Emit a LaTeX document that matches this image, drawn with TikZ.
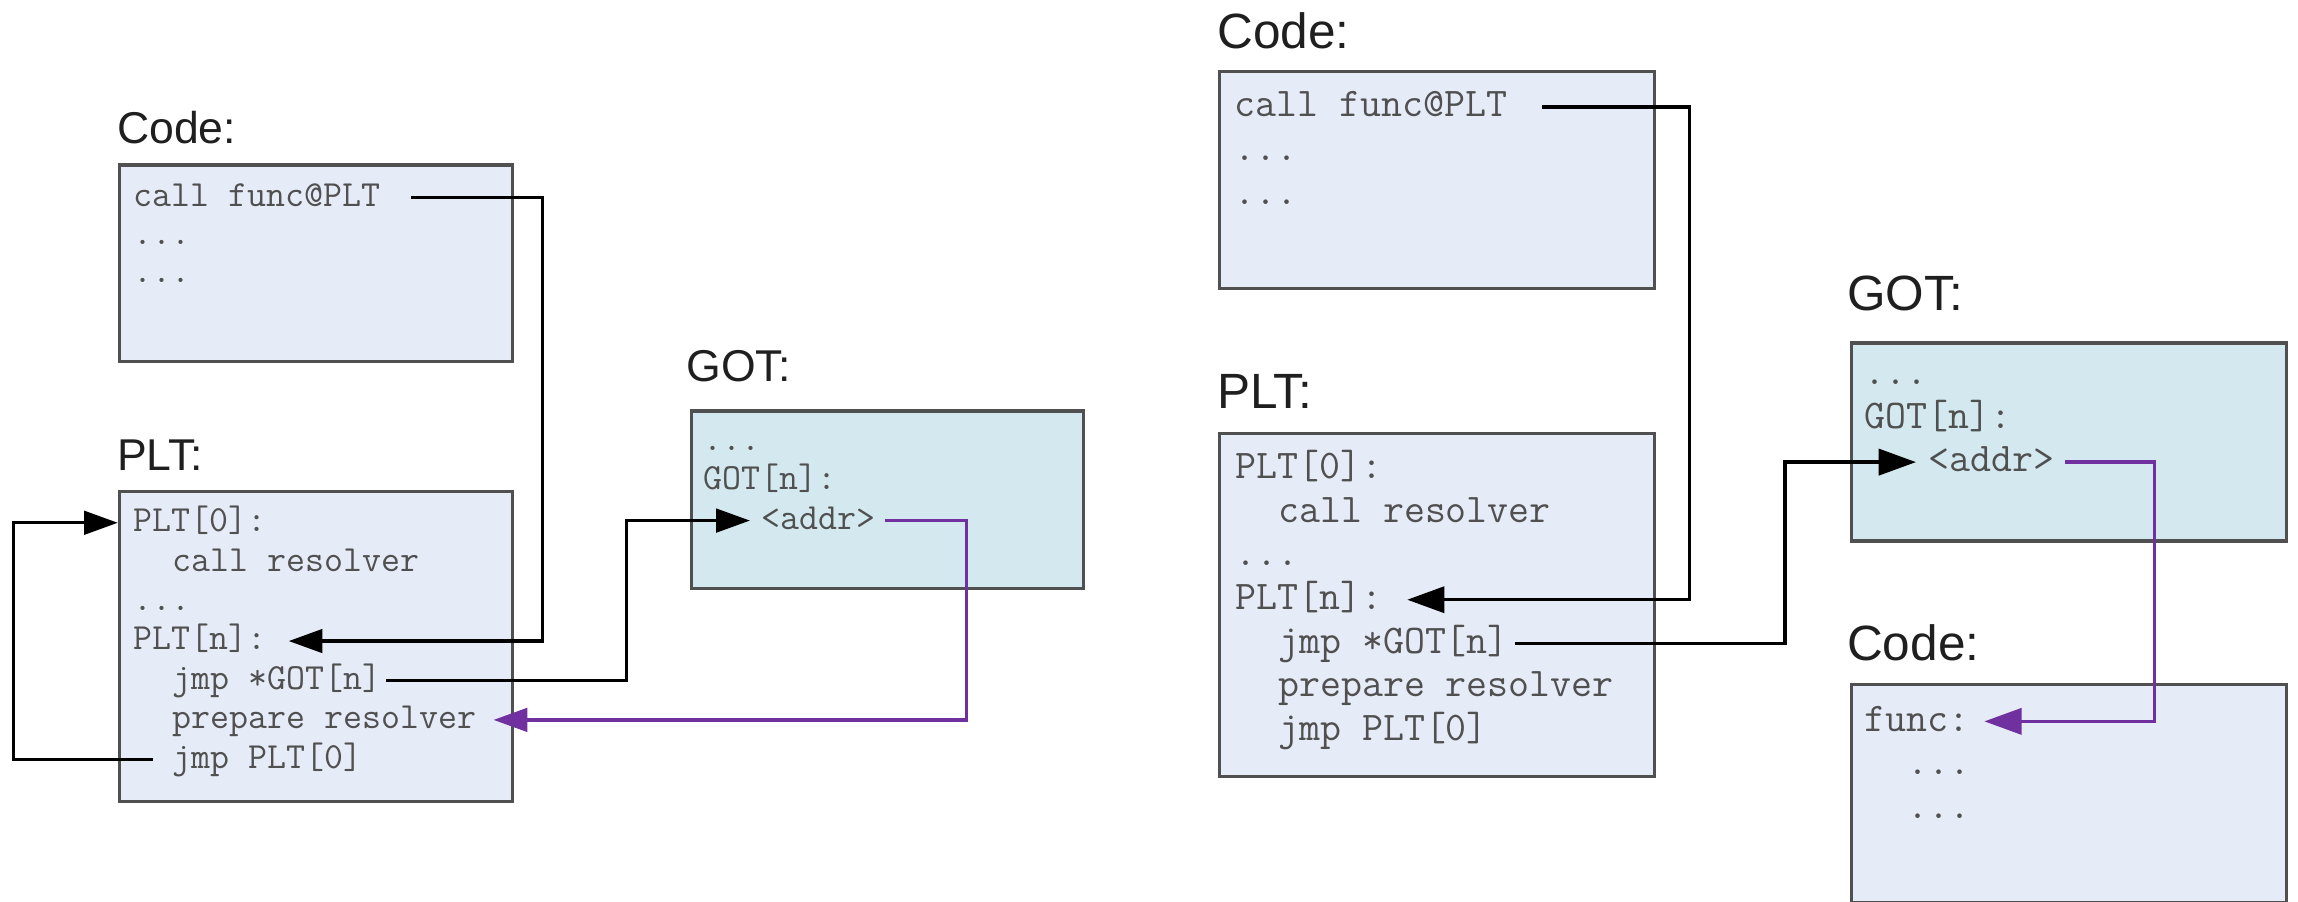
\documentclass[tikz,border=0pt]{standalone}
\usepackage{fontspec}
\setsansfont{Liberation Sans}
\usetikzlibrary{arrows.meta}
\definecolor{boxfill}{HTML}{E6ECF7}
\definecolor{gotfill}{HTML}{D3E9EF}
\definecolor{boxline}{HTML}{505050}
\definecolor{codetext}{HTML}{505050}
\definecolor{purp}{HTML}{7030A0}
\begin{document}
\begin{tikzpicture}[x=0.5pt,y=-0.5pt,
  box/.style={draw=boxline, line width=1.1pt, fill=boxfill, inner sep=0pt, anchor=north west},
  gotbox/.style={box, fill=gotfill},
  lblL/.style={anchor=base west, inner sep=0pt, font=\sffamily\fontsize{15.2}{18}\selectfont, text=black!88},
  lblR/.style={anchor=base west, inner sep=0pt, font=\sffamily\fontsize{16.9}{20}\selectfont, text=black!88},
  txtL/.style={anchor=base west, inner sep=0pt, font=\ttfamily\fontsize{12.57}{15}\selectfont, text=codetext},
  txtR/.style={anchor=base west, inner sep=0pt, font=\ttfamily\fontsize{13.9}{16}\selectfont, text=codetext},
  arrL/.style={draw=black, line width=1.1pt, -{Triangle[length=11.5pt,width=8pt]}},
  arrR/.style={draw=black, line width=1.2pt, -{Triangle[length=12.7pt,width=8.9pt]}},
  parrL/.style={arrL, draw=purp},
  parrR/.style={arrR, draw=purp}]
\useasboundingbox (0,0) rectangle (1568,615.45);
\fill[white] (0,0) rectangle (1568,615.45);

% ---------- left diagram ----------
\node[lblL] (codeLabL) at (79.6,97.8) {Code:};
\node[box, minimum width=134.1pt, minimum height=67.1pt] (codeL) at (80.4,111.4) {};
\node[txtL] (cfL) at (91,141) {call func@PLT};
\node[txtL] (d1L) at (91,167) {...};
\node[txtL] (d2L) at (91,193) {...};

\node[lblL] (pltLabL) at (79.6,320.7) {PLT:};
\node[box, minimum width=134.1pt, minimum height=106pt] (pltL) at (80.4,334) {};
\node[txtL] (p0L) at (91,362.7) {PLT[0]:};
\node[txtL] (crL) at (117.4,389.6) {call resolver};
\node[txtL] (pdL) at (91,416.5) {...};
\node[txtL] (pnL) at (91,443.4) {PLT[n]:};
\node[txtL] (jgL) at (117.4,470.3) {jmp *GOT[n]};
\node[txtL] (prL) at (117.4,497.2) {prepare resolver};
\node[txtL] (jpL) at (117.4,524.1) {jmp PLT[0]};

\node[lblL] (gotLabL) at (468,260.4) {GOT:};
\node[gotbox, minimum width=133.6pt, minimum height=60.7pt] (gotL) at (470.8,279.3) {};
\node[txtL] (gdL) at (479.9,307.4) {...};
\node[txtL] (gnL) at (479.9,334.3) {GOT[n]:};
\node[txtL] (gaL) at (519.5,361.2) {<addr>};

\coordinate (s1) at (280.7,135);  \coordinate (b1) at (370,437.4);  \coordinate (t1) at (197,437.4);
\coordinate (s2) at (104.4,518.1); \coordinate (b2) at (9.1,356.7);  \coordinate (t2) at (80.4,356.7);
\coordinate (s3) at (263.7,464.3); \coordinate (b3) at (427.6,355.2); \coordinate (t3) at (511.7,355.2);
\coordinate (s4) at (603.9,355.2); \coordinate (b4) at (659.6,491.2); \coordinate (t4) at (336.8,491.2);

\draw[arrL] (s1) -| (b1) -- (t1);
\draw[arrL] (s2) -| (b2) -- (t2);
\draw[arrL] (s3) -| (b3) -- (t3);
\draw[parrL] (s4) -| (b4) -- (t4);

% ---------- right diagram ----------
\node[lblR] (codeLabR) at (830.4,33) {Code:};
\node[box, minimum width=148.4pt, minimum height=73.9pt] (codeR) at (831.2,47.8) {};
\node[txtR] (cfR) at (842,79.6) {call func@PLT};
\node[txtR] (d1R) at (842,109.4) {...};
\node[txtR] (d2R) at (842,139.2) {...};

\node[lblR] (pltLabR) at (830,278.6) {PLT:};
\node[box, minimum width=148.4pt, minimum height=117.15pt] (pltR) at (831.2,294.5) {};
\node[txtR] (p0R) at (842.5,326.4) {PLT[0]:};
\node[txtR] (crR) at (871.7,356.2) {call resolver};
\node[txtR] (pdR) at (842.5,386) {...};
\node[txtR] (pnR) at (842.5,415.8) {PLT[n]:};
\node[txtR] (jgR) at (871.7,445.6) {jmp *GOT[n]};
\node[txtR] (prR) at (871.7,475.4) {prepare resolver};
\node[txtR] (jpR) at (871.7,505.2) {jmp PLT[0]};

\node[lblR] (gotLabR) at (1260,212) {GOT:};
\node[gotbox, minimum width=148.5pt, minimum height=67.5pt] (gotR) at (1262,233) {};
\node[txtR] (gdR) at (1272,262.3) {...};
\node[txtR] (gnR) at (1272,292.1) {GOT[n]:};
\node[txtR] (gaR) at (1315.8,321.9) {<addr>};

\node[lblR] (codeLabR2) at (1260,451) {Code:};
\node[box, minimum width=148.5pt, minimum height=74.3pt] (funcR) at (1262,466) {};
\node[txtR] (fnR) at (1272,498.8) {func:};
\node[txtR] (fd1R) at (1301.2,528.6) {...};
\node[txtR] (fd2R) at (1301.2,558.4) {...};

\coordinate (s5) at (1052.3,73);   \coordinate (b5) at (1152.9,409.2); \coordinate (t5) at (960.2,409.2);
\coordinate (s6) at (1034,439);    \coordinate (b6) at (1218,315.3);   \coordinate (t6) at (1307.3,315.3);
\coordinate (s7) at (1409.3,315.3); \coordinate (b7) at (1470,492.2);  \coordinate (t7) at (1354,492.2);

\draw[arrR] (s5) -| (b5) -- (t5);
\draw[arrR] (s6) -| (b6) -- (t6);
\draw[parrR] (s7) -| (b7) -- (t7);
\end{tikzpicture}
\end{document}
